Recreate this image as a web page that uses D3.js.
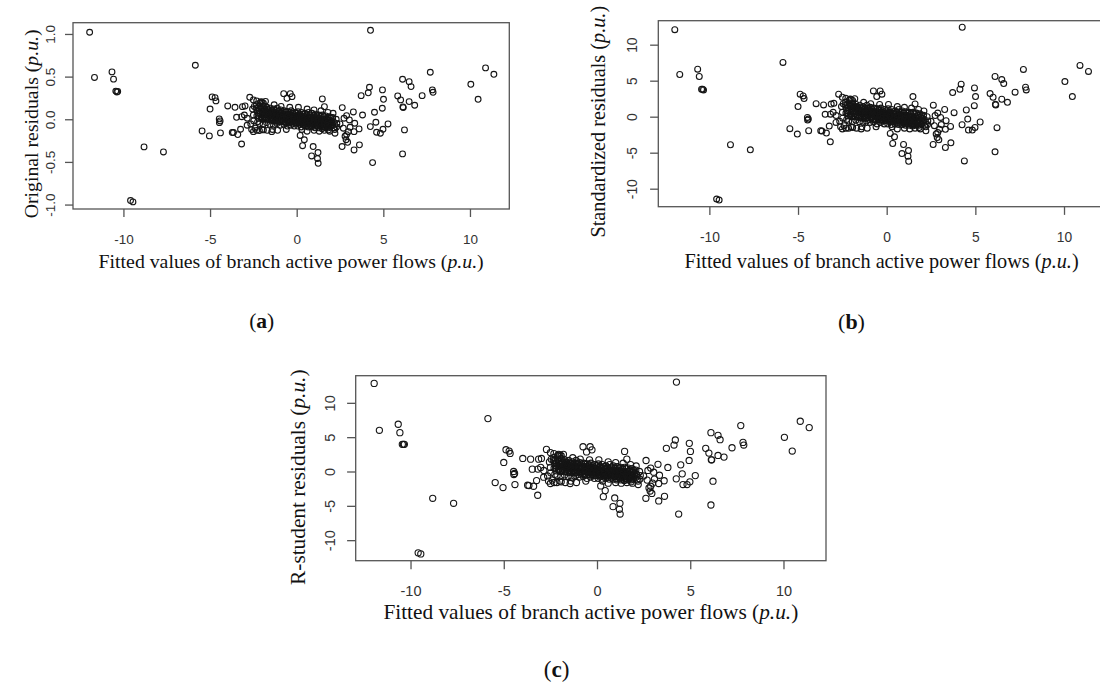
<!DOCTYPE html>
<html>
<head>
<meta charset="utf-8">
<script src="https://cdn.jsdelivr.net/npm/d3@7/dist/d3.min.js"></script>
<style>
html,body{margin:0;padding:0;background:#fff;}
svg{display:block;}
</style>
</head>
<body>
<svg id="chart" width="1100" height="684"></svg>
<script>
// ---------- DATA ----------
// Shared fitted values (x) for the scattered points
const fittedOut = [-11.95,-11.67,-10.66,-10.57,-10.44,-10.38,-10.33,-8.81,-7.69,-9.59,-9.45,
 -5.85,-5.46,-5.04,-5.0,-4.88,-4.71,-4.66,-4.47,-4.46,-4.42,-4.4,-3.98,-3.72,-3.65,-3.4,-3.47,-3.18,-3.24,-3.56,-2.71,-2.86,
 4.26,4.38,4.2,4.13,4.25,3.72,3.8,3.62,3.31,4.49,4.57,4.61,4.83,4.95,5.01,4.94,4.98,5.27,5.83,6.11,6.0,6.13,6.15,6.22,6.11,
 6.49,6.6,6.49,6.81,7.24,7.71,7.83,7.87,10.05,10.47,10.9,11.38,
 2.62,0.34,0.44,0.95,0.86,1.23,1.2,1.24,0.2,-0.75,-0.37,-0.27,-0.56,1.48,1.6,
 2.85,2.79,2.88,2.98,3.08,2.94,2.69,2.63,2.88,3.27,3.35,2.5,2.21,1.83,3.31,3.6,2.73,3.04,
 -2.5,-2.31,-2.06,-1.92,-2.98,-3.13,-2.85,-2.65,-2.4,-2.5,-2.15,-1.92,-1.44,-3.17,-3.02];
const origOut = [1.02,0.49,0.555,0.47,0.33,0.32,0.325,-0.324,-0.383,-0.953,-0.969,
 0.633,-0.137,-0.195,0.12,0.262,0.254,0.215,0.004,-0.04,-0.02,-0.16,0.156,-0.156,-0.156,-0.18,0.023,-0.29,-0.117,0.14,0.258,-0.07,
 1.043,-0.508,0.375,0.31,-0.086,0.277,0.05,-0.30,-0.36,0.082,-0.035,-0.152,-0.164,0.344,0.234,0.129,-0.117,-0.055,0.273,0.469,0.227,0.145,0.137,-0.125,-0.406,
 0.441,0.383,0.207,0.164,0.277,0.551,0.344,0.316,0.41,0.234,0.602,0.527,
 -0.32,-0.31,-0.24,-0.32,-0.43,-0.39,-0.46,-0.516,-0.19,0.30,0.30,0.265,0.246,0.238,0.148,
 -0.24,-0.20,-0.18,-0.145,-0.094,-0.27,-0.105,0.137,0.043,0.086,-0.047,-0.055,-0.164,-0.125,-0.145,-0.113,0.012,-0.008,
 0.227,0.215,0.207,0.188,0.156,0.148,0.012,-0.055,-0.105,-0.145,-0.133,-0.125,-0.145,0.03,0.05];
const stdOut = [12.09,5.86,6.6,5.58,3.81,3.81,3.72,-3.9,-4.6,-11.44,-11.58,
 7.53,-1.67,-2.42,1.4,3.12,2.88,2.51,-0.1,-0.47,-0.33,-1.95,1.81,-1.95,-2.0,-2.28,0.33,-3.49,-1.3,1.63,3.12,-0.79,
 12.42,-6.14,4.51,3.81,-1.12,3.35,0.56,-3.63,-4.28,0.93,-0.33,-1.86,-1.86,4.0,2.79,1.53,-1.49,-0.74,3.21,5.58,2.7,1.72,1.63,-1.53,-4.88,
 5.16,4.6,2.42,2.0,3.4,6.56,4.09,3.72,4.88,2.79,7.12,6.28,
 -3.86,-3.72,-2.79,-3.86,-5.12,-4.7,-5.49,-6.19,-2.33,3.58,3.58,3.12,2.79,2.79,1.77,
 -2.9,-2.4,-2.2,-1.75,-1.1,-3.2,-1.25,1.6,0.5,1.0,-0.55,-0.65,-1.95,-1.5,-1.75,-1.35,0.15,-0.1,
 2.7,2.55,2.45,2.25,1.85,1.75,0.15,-0.65,-1.25,-1.7,-1.6,-1.5,-1.7,0.35,0.6];
const rstuOut = [12.83,6.0,6.88,5.66,3.95,3.95,3.95,-3.9,-4.63,-11.85,-12.0,
 7.7,-1.61,-2.34,1.32,3.17,2.98,2.63,0.0,-0.44,-0.29,-1.9,1.9,-2.0,-2.05,-2.15,0.34,-3.46,-1.32,1.8,3.22,-0.83,
 13.02,-6.2,4.59,3.85,-1.07,3.37,0.59,-3.61,-4.29,0.97,-0.34,-1.9,-1.9,4.1,2.93,1.61,-1.5,-0.6,3.37,5.66,2.68,1.7,1.7,-1.41,-4.88,
 5.27,4.63,2.34,2.1,3.46,6.68,4.24,3.85,4.98,2.98,7.32,6.39,
 -3.9,-3.66,-2.78,-3.85,-5.12,-4.63,-5.51,-6.2,-2.1,3.6,3.6,3.15,2.85,2.93,1.8,
 -2.85,-2.4,-2.15,-1.7,-1.1,-3.2,-1.25,1.6,0.5,1.05,-0.55,-0.65,-1.9,-1.5,-1.75,-1.35,0.15,-0.1,
 2.75,2.6,2.5,2.3,1.9,1.8,0.15,-0.65,-1.25,-1.75,-1.6,-1.5,-1.75,0.35,0.6];

// Dense central cluster (estimated positions of the overlapping rings)
const fittedCore = [-2.55,-2.5,-2.45,-2.48,-2.32,-2.28,-2.3,-2.26,-2.34,-2.12,-2.08,-2.1,-2.06,-2.14,-2.1,
 -1.92,-1.88,-1.9,-1.86,-1.94,-1.9,-1.72,-1.68,-1.7,-1.66,-1.74,-1.7,-1.66,-1.52,-1.48,-1.5,-1.46,-1.54,-1.5,-1.46,
 -1.32,-1.28,-1.3,-1.26,-1.34,-1.3,-1.26,-1.12,-1.08,-1.1,-1.06,-1.14,-1.1,-1.06,-0.92,-0.88,-0.9,-0.86,-0.94,-0.9,-0.86,
 -0.72,-0.68,-0.7,-0.66,-0.74,-0.7,-0.66,-0.52,-0.48,-0.5,-0.46,-0.54,-0.5,-0.46,-0.32,-0.28,-0.3,-0.26,-0.34,-0.3,-0.26,
 -0.12,-0.08,-0.1,-0.06,-0.14,-0.1,-0.06,0.08,0.12,0.1,0.14,0.06,0.1,0.14,0.28,0.32,0.3,0.34,0.26,0.3,0.34,
 0.48,0.52,0.5,0.54,0.46,0.5,0.54,0.68,0.72,0.7,0.74,0.66,0.7,0.74,0.88,0.92,0.9,0.94,0.86,0.9,0.94,
 1.08,1.12,1.1,1.14,1.06,1.1,1.14,1.28,1.32,1.3,1.34,1.26,1.3,1.34,1.48,1.52,1.5,1.54,1.46,1.5,1.54,
 1.68,1.72,1.7,1.74,1.66,1.7,1.88,1.92,1.9,1.94,1.86,2.08,2.12,2.1,2.14,2.28,2.32,2.3,
 -2.6,-2.3,-2.0,-1.7,-1.4,-1.1,-0.6,0.3,0.6,1.0,1.3,1.6,1.9,2.2,-1.8,-2.0,-1.3,-0.9,-0.4,0.1,0.6,1.0,1.4,1.8,2.1,
 -2.23,-2.17,-2.2,-2.23,-2.17,-2.03,-1.97,-2.0,-2.03,-1.97,-1.83,-1.77,-1.8,-1.83,-1.77,-1.63,-1.57,-1.6,-1.63,-1.57,
 -1.43,-1.37,-1.4,-1.43,-1.37,-1.23,-1.17,-1.2,-1.23,-1.17,-1.03,-0.97,-1.0,-1.03,-0.97,-0.83,-0.77,-0.8,-0.83,-0.77,
 -0.63,-0.57,-0.6,-0.63,-0.57,-0.43,-0.37,-0.4,-0.43,-0.37,-0.23,-0.17,-0.2,-0.23,-0.17,-0.03,0.03,0.0,-0.03,0.03,
 0.17,0.23,0.2,0.17,0.23,0.37,0.43,0.4,0.37,0.43,0.57,0.63,0.6,0.57,0.63,0.77,0.83,0.8,0.77,0.83,
 0.97,1.03,1.0,0.97,1.03,1.17,1.23,1.2,1.17,1.23,1.37,1.43,1.4,1.37,1.43,1.57,1.63,1.6,1.57,1.63,
 1.77,1.83,1.8,1.77,1.83,1.97,2.03,2.0,1.97];
const origCore = [0.12,0.05,0.15,-0.02,0.17,0.10,0.04,-0.03,0.13,0.19,0.12,0.07,0.02,-0.05,0.15,
 0.16,0.11,0.06,0.01,-0.06,0.09,0.14,0.10,0.05,0.00,-0.04,0.08,0.12,0.13,0.09,0.04,-0.01,-0.06,0.07,0.02,
 0.12,0.08,0.03,-0.02,-0.07,0.06,0.01,0.13,0.09,0.04,-0.01,-0.05,0.06,0.02,0.11,0.07,0.03,-0.02,-0.07,0.05,0.00,
 0.10,0.06,0.02,-0.03,-0.06,0.04,0.00,0.09,0.06,0.02,-0.03,-0.08,0.04,0.00,0.10,0.05,0.01,-0.03,-0.07,0.03,-0.01,
 0.08,0.04,0.00,-0.04,-0.08,0.03,-0.01,0.09,0.05,0.00,-0.04,-0.08,0.02,-0.02,0.08,0.04,0.00,-0.04,-0.09,0.02,-0.02,
 0.07,0.03,-0.01,-0.05,-0.08,0.01,-0.03,0.08,0.03,-0.01,-0.05,-0.09,0.01,-0.03,0.07,0.02,-0.02,-0.06,-0.09,0.00,-0.04,
 0.06,0.02,-0.02,-0.06,-0.10,0.00,-0.04,0.05,0.01,-0.03,-0.07,-0.10,-0.01,-0.05,0.05,0.00,-0.04,-0.08,-0.11,-0.02,-0.06,
 0.04,0.00,-0.04,-0.08,-0.10,-0.06,0.03,-0.01,-0.05,-0.09,-0.07,0.02,-0.03,-0.07,-0.10,0.00,-0.05,-0.09,
 -0.12,-0.13,-0.12,-0.13,-0.12,-0.13,-0.12,-0.12,-0.14,-0.13,-0.14,-0.13,-0.14,-0.12,0.21,0.20,0.17,0.15,0.14,0.14,0.12,0.11,0.10,0.08,0.07,
 0.13,0.10,0.07,0.04,0.01,0.12,0.09,0.06,0.03,0.00,0.12,0.09,0.06,0.03,0.00,0.11,0.08,0.05,0.02,-0.01,
 0.10,0.07,0.04,0.01,-0.02,0.10,0.07,0.04,0.01,-0.02,0.10,0.07,0.04,0.01,-0.03,0.09,0.06,0.03,0.00,-0.03,
 0.09,0.06,0.03,0.00,-0.04,0.08,0.05,0.02,-0.01,-0.04,0.07,0.04,0.02,-0.02,-0.05,0.07,0.04,0.01,-0.02,-0.05,
 0.06,0.03,0.01,-0.03,-0.06,0.06,0.03,0.00,-0.03,-0.06,0.05,0.02,-0.01,-0.04,-0.07,0.05,0.02,-0.01,-0.04,-0.07,
 0.04,0.01,-0.02,-0.05,-0.08,0.04,0.01,-0.02,-0.05,-0.08,0.03,0.00,-0.03,-0.06,-0.09,0.03,0.00,-0.03,-0.06,-0.09,
 0.02,-0.01,-0.04,-0.07,-0.10,0.02,-0.02,-0.05,-0.08];
const stdCore = [1.4,0.6,1.8,-0.2,2.0,1.2,0.5,-0.4,1.6,2.3,1.4,0.8,0.2,-0.6,1.8,
 1.9,1.3,0.7,0.1,-0.7,1.1,1.7,1.2,0.6,0.0,-0.5,1.0,1.4,1.6,1.1,0.5,-0.1,-0.7,0.8,0.2,
 1.4,1.0,0.4,-0.2,-0.8,0.7,0.1,1.6,1.1,0.5,-0.1,-0.6,0.7,0.2,1.3,0.8,0.4,-0.2,-0.8,0.6,0.0,
 1.2,0.7,0.2,-0.4,-0.7,0.5,0.0,1.1,0.7,0.2,-0.4,-1.0,0.5,0.0,1.2,0.6,0.1,-0.4,-0.8,0.4,-0.1,
 1.0,0.5,0.0,-0.5,-1.0,0.4,-0.1,1.1,0.6,0.0,-0.5,-1.0,0.2,-0.2,1.0,0.5,0.0,-0.5,-1.1,0.2,-0.2,
 0.8,0.4,-0.1,-0.6,-1.0,0.1,-0.4,1.0,0.4,-0.1,-0.6,-1.1,0.1,-0.4,0.8,0.2,-0.2,-0.7,-1.1,0.0,-0.5,
 0.7,0.2,-0.2,-0.7,-1.2,0.0,-0.5,0.6,0.1,-0.4,-0.8,-1.2,-0.1,-0.6,0.6,0.0,-0.5,-1.0,-1.3,-0.2,-0.7,
 0.5,0.0,-0.5,-1.0,-1.2,-0.7,0.4,-0.1,-0.6,-1.1,-0.8,0.2,-0.4,-0.8,-1.2,0.0,-0.6,-1.1,
 -1.4,-1.6,-1.4,-1.6,-1.4,-1.6,-1.4,-1.4,-1.7,-1.6,-1.7,-1.6,-1.7,-1.4,2.5,2.4,2.0,1.8,1.7,1.7,1.4,1.3,1.2,1.0,0.8,
 1.6,1.2,0.8,0.5,0.1,1.4,1.1,0.7,0.4,0.0,1.4,1.1,0.7,0.4,0.0,1.3,1.0,0.6,0.2,-0.1,
 1.2,0.8,0.5,0.1,-0.2,1.2,0.8,0.5,0.1,-0.2,1.2,0.8,0.5,0.1,-0.4,1.1,0.7,0.4,0.0,-0.4,
 1.1,0.7,0.4,0.0,-0.5,1.0,0.6,0.2,-0.1,-0.5,0.8,0.5,0.2,-0.2,-0.6,0.8,0.5,0.1,-0.2,-0.6,
 0.7,0.4,0.1,-0.4,-0.7,0.7,0.4,0.0,-0.4,-0.7,0.6,0.2,-0.1,-0.5,-0.8,0.6,0.2,-0.1,-0.5,-0.8,
 0.5,0.1,-0.2,-0.6,-1.0,0.5,0.1,-0.2,-0.6,-1.0,0.4,0.0,-0.4,-0.7,-1.1,0.4,0.0,-0.4,-0.7,-1.1,
 0.2,-0.1,-0.5,-0.8,-1.2,0.2,-0.2,-0.6,-1.0];
const rstuCore = [1.4,0.6,1.8,-0.2,2.0,1.2,0.5,-0.4,1.6,2.3,1.4,0.8,0.2,-0.6,1.8,
 1.9,1.3,0.7,0.1,-0.7,1.1,1.7,1.2,0.6,0.0,-0.5,1.0,1.4,1.6,1.1,0.5,-0.1,-0.7,0.8,0.2,
 1.4,1.0,0.4,-0.2,-0.8,0.7,0.1,1.6,1.1,0.5,-0.1,-0.6,0.7,0.2,1.3,0.8,0.4,-0.2,-0.8,0.6,0.0,
 1.2,0.7,0.2,-0.4,-0.7,0.5,0.0,1.1,0.7,0.2,-0.4,-1.0,0.5,0.0,1.2,0.6,0.1,-0.4,-0.8,0.4,-0.1,
 1.0,0.5,0.0,-0.5,-1.0,0.4,-0.1,1.1,0.6,0.0,-0.5,-1.0,0.2,-0.2,1.0,0.5,0.0,-0.5,-1.1,0.2,-0.2,
 0.8,0.4,-0.1,-0.6,-1.0,0.1,-0.4,1.0,0.4,-0.1,-0.6,-1.1,0.1,-0.4,0.8,0.2,-0.2,-0.7,-1.1,0.0,-0.5,
 0.7,0.2,-0.2,-0.7,-1.2,0.0,-0.5,0.6,0.1,-0.4,-0.8,-1.2,-0.1,-0.6,0.6,0.0,-0.5,-1.0,-1.3,-0.2,-0.7,
 0.5,0.0,-0.5,-1.0,-1.2,-0.7,0.4,-0.1,-0.6,-1.1,-0.8,0.2,-0.4,-0.8,-1.2,0.0,-0.6,-1.1,
 -1.4,-1.6,-1.4,-1.6,-1.4,-1.6,-1.4,-1.4,-1.7,-1.6,-1.7,-1.6,-1.7,-1.4,2.5,2.4,2.0,1.8,1.7,1.7,1.4,1.3,1.2,1.0,0.8,
 1.6,1.2,0.8,0.5,0.1,1.4,1.1,0.7,0.4,0.0,1.4,1.1,0.7,0.4,0.0,1.3,1.0,0.6,0.2,-0.1,
 1.2,0.8,0.5,0.1,-0.2,1.2,0.8,0.5,0.1,-0.2,1.2,0.8,0.5,0.1,-0.4,1.1,0.7,0.4,0.0,-0.4,
 1.1,0.7,0.4,0.0,-0.5,1.0,0.6,0.2,-0.1,-0.5,0.8,0.5,0.2,-0.2,-0.6,0.8,0.5,0.1,-0.2,-0.6,
 0.7,0.4,0.1,-0.4,-0.7,0.7,0.4,0.0,-0.4,-0.7,0.6,0.2,-0.1,-0.5,-0.8,0.6,0.2,-0.1,-0.5,-0.8,
 0.5,0.1,-0.2,-0.6,-1.0,0.5,0.1,-0.2,-0.6,-1.0,0.4,0.0,-0.4,-0.7,-1.1,0.4,0.0,-0.4,-0.7,-1.1,
 0.2,-0.1,-0.5,-0.8,-1.2,0.2,-0.2,-0.6,-1.0];

const xTicks = [-10, -5, 0, 5, 10];
const yTicksOrig = [-1.0, -0.5, 0.0, 0.5, 1.0];
const yTicksStd = [-10, -5, 0, 5, 10];
const xTitle = "Fitted values of branch active power flows";
const yTitles = ["Original residuals", "Standardized residuals", "R-student residuals"];
const captions = ["a", "b", "c"];

// ---------- LAYOUT ----------
const panels = [
  {out: origOut, core: origCore, yTicks: yTicksOrig, fmt: d => d.toFixed(1), title: yTitles[0], cap: captions[0],
   left: 73, right: 509.3, top: 22.7, bottom: 209, xDom: [-12.91, 12.27], yDom: [-1.052, 1.132],
   s: 1.0, ylabX: 50, ytitleX: 37.5, ytitleDY: 8, xlabY: 244, xtitleY: 268.3, capX: 261.7, capY: 328, r: 2.9},
  {out: stdOut, core: stdCore, yTicks: yTicksStd, fmt: d => String(d), title: yTitles[1], cap: captions[1],
   left: 658.3, right: 1104.8, top: 20.7, bottom: 206.7, xDom: [-12.88, 12.3], yDom: [-12.5, 13.33],
   s: 1.023, ylabX: 632.5, ytitleX: 605, ytitleDY: 8, xlabY: 241.5, xtitleY: 267.5, capX: 851.5, capY: 328.5, r: 2.95},
  {out: rstuOut, core: rstuCore, yTicks: yTicksStd, fmt: d => String(d), title: yTitles[2], cap: captions[2],
   left: 355.7, right: 826, top: 375.7, bottom: 560.7, xDom: [-12.94, 12.28], yDom: [-12.99, 13.95],
   s: 1.077, ylabX: 329.3, ytitleX: 305, ytitleDY: 9, xlabY: 596, xtitleY: 619, capX: 556.7, capY: 676.5, r: 3.1}
];

const svg = d3.select("#chart");
const sansFont = "'Liberation Sans', Arial, sans-serif";
const serifFont = "'Liberation Serif', 'Times New Roman', serif";
const tickColor = "#333";
const boxColor = "#555";

panels.forEach(p => {
  const x = d3.scaleLinear().domain(p.xDom).range([p.left, p.right]);
  const y = d3.scaleLinear().domain(p.yDom).range([p.bottom, p.top]);
  const g = svg.append("g");
  const tickLen = 8 * p.s;

  // points
  const pts = p.core.map((v, i) => [fittedCore[i], v]).concat(p.out.map((v, i) => [fittedOut[i], v]));
  g.append("g").selectAll("circle").data(pts).join("circle")
    .attr("cx", d => x(d[0])).attr("cy", d => y(d[1])).attr("r", p.r)
    .attr("fill", "none").attr("stroke", "#151515").attr("stroke-width", 1.1);

  // box
  g.append("rect").attr("x", p.left).attr("y", p.top)
    .attr("width", p.right - p.left).attr("height", p.bottom - p.top)
    .attr("fill", "none").attr("stroke", boxColor).attr("stroke-width", 1.3);

  // x axis ticks
  const xa = d3.axisBottom(x).tickValues(xTicks).tickSize(tickLen).tickFormat(d => String(d));
  const xg = g.append("g").attr("transform", `translate(0,${p.bottom})`).call(xa);
  xg.select(".domain").remove();
  xg.selectAll(".tick line").attr("stroke", boxColor).attr("stroke-width", 1.3);
  xg.selectAll(".tick text").attr("y", 0).attr("dy", 0)
    .attr("transform", `translate(0,${p.xlabY - p.bottom})`)
    .attr("font-family", sansFont).attr("font-size", 13.5 * p.s).attr("fill", tickColor);

  // y axis ticks
  const ya = d3.axisLeft(y).tickValues(p.yTicks).tickSize(tickLen).tickFormat(p.fmt);
  const yg = g.append("g").attr("transform", `translate(${p.left},0)`).call(ya);
  yg.select(".domain").remove();
  yg.selectAll(".tick line").attr("stroke", boxColor).attr("stroke-width", 1.3);
  yg.selectAll(".tick text")
    .attr("x", 0).attr("dy", "0.36em").attr("text-anchor", "middle")
    .attr("transform", `translate(${p.ylabX - p.left},0) rotate(-90)`)
    .attr("font-family", sansFont).attr("font-size", 13.5 * p.s).attr("fill", tickColor);

  // x title
  const xt = g.append("text").attr("x", (p.left + p.right) / 2).attr("y", p.xtitleY)
    .attr("text-anchor", "middle").attr("font-family", serifFont).attr("font-size", 19.8 * p.s).attr("fill", "#111");
  xt.append("tspan").text(xTitle + " (");
  xt.append("tspan").attr("font-style", "italic").text("p.u.");
  xt.append("tspan").text(")");

  // y title
  const cy = (p.top + p.bottom) / 2 + p.ytitleDY;
  const yt = g.append("text").attr("transform", `translate(${p.ytitleX},${cy}) rotate(-90)`)
    .attr("text-anchor", "middle").attr("font-family", serifFont).attr("font-size", 19.8 * p.s).attr("fill", "#111");
  yt.append("tspan").text(p.title + " (");
  yt.append("tspan").attr("font-style", "italic").text("p.u.");
  yt.append("tspan").text(")");

  // caption
  const ct = svg.append("text").attr("x", p.capX).attr("y", p.capY).attr("text-anchor", "middle")
    .attr("font-family", serifFont).attr("font-size", 21.5 * p.s).attr("fill", "#111");
  ct.append("tspan").text("(");
  ct.append("tspan").attr("font-weight", "bold").text(p.cap);
  ct.append("tspan").text(")");
});
</script>
</body>
</html>
